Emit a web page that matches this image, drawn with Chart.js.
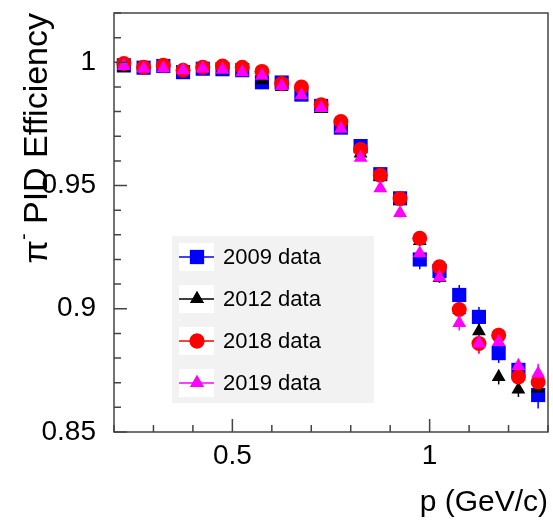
<!DOCTYPE html>
<html>
<head>
<meta charset="utf-8">
<script src="https://cdn.jsdelivr.net/npm/chart.js@4"></script>
<style>
  html, body { margin: 0; padding: 0; background: #fff; }
  #wrap { width: 553px; height: 523px; }
</style>
</head>
<body>
<div id="wrap"><canvas id="myChart" width="553" height="523"></canvas></div>
<script>
// momentum bins (GeV/c)
const pBins = [0.225, 0.275, 0.325, 0.375, 0.425, 0.475, 0.525, 0.575, 0.625, 0.675, 0.725,
               0.775, 0.825, 0.875, 0.925, 0.975, 1.025, 1.075, 1.125, 1.175, 1.225, 1.275];

const eff2009 = [0.9988, 0.9978, 0.9985, 0.9960, 0.9974, 0.9972, 0.9968, 0.9919, 0.9918, 0.9869, 0.9823,
                 0.9735, 0.9660, 0.9546, 0.9448, 0.9200, 0.9153, 0.9056, 0.8967, 0.8820, 0.8752, 0.8650];
const eff2012 = [0.9976, 0.9975, 0.9980, 0.9965, 0.9975, 0.9968, 0.9960, 0.9927, 0.9900, 0.9865, 0.9810,
                 0.9730, 0.9630, 0.9535, 0.9440, 0.9275, 0.9125, 0.8995, 0.8909, 0.8723, 0.8672, 0.8676];
const eff2018 = [0.9995, 0.9980, 0.9988, 0.9968, 0.9980, 0.9985, 0.9980, 0.9963, 0.9914, 0.9900, 0.9828,
                 0.9760, 0.9646, 0.9542, 0.9447, 0.9286, 0.9170, 0.8997, 0.8859, 0.8893, 0.8723, 0.8703];
const eff2019 = [0.9985, 0.9975, 0.9976, 0.9968, 0.9975, 0.9970, 0.9960, 0.9945, 0.9904, 0.9866, 0.9815,
                 0.9730, 0.9613, 0.9489, 0.9389, 0.9225, 0.9127, 0.8942, 0.8859, 0.8865, 0.8768, 0.8737];

// statistical errors
const err2009 = [0.001, 0.001, 0.001, 0.001, 0.001, 0.001, 0.001, 0.001, 0.001, 0.001, 0.001,
                 0.001, 0.001, 0.002, 0.002, 0.004, 0.002, 0.004, 0.004, 0.004, 0.004, 0.0055];
const err2012 = [0.001, 0.001, 0.001, 0.001, 0.001, 0.001, 0.001, 0.001, 0.001, 0.001, 0.001,
                 0.001, 0.001, 0.001, 0.002, 0.002, 0.002, 0.003, 0.003, 0.003, 0.003, 0.004];
const err2018 = [0.001, 0.001, 0.001, 0.001, 0.001, 0.001, 0.001, 0.001, 0.001, 0.001, 0.001,
                 0.001, 0.001, 0.001, 0.002, 0.002, 0.002, 0.003, 0.004, 0.003, 0.003, 0.004];
const err2019 = [0.001, 0.001, 0.001, 0.001, 0.001, 0.001, 0.001, 0.001, 0.001, 0.001, 0.001,
                 0.001, 0.001, 0.001, 0.002, 0.002, 0.002, 0.003, 0.004, 0.003, 0.003, 0.004];

const seriesNames = ['2009 data', '2012 data', '2018 data', '2019 data'];
const xTickLabels = [0.5, 1];
const yTickLabels = [0.85, 0.9, 0.95, 1];

const FONT = '"Liberation Sans", Arial, Helvetica, sans-serif';

function pts(vals, errs) {
  return pBins.map((p, i) => ({ x: p, y: vals[i], e: errs[i] }));
}

function isLabel(v, list) {
  return list.some(t => Math.abs(t - v) < 1e-6);
}

function noPad(s) {
  s.paddingTop = 0;
  s.paddingBottom = 0;
  s.paddingLeft = 0;
  s.paddingRight = 0;
}

const frameTicks = {
  id: 'frameTicks',
  beforeDatasetsDraw(chart) {
    // error bars under the markers
    const ctx = chart.ctx, xs = chart.scales.x, ys = chart.scales.y;
    ctx.save();
    chart.data.datasets.forEach(ds => {
      ctx.strokeStyle = ds.borderColor;
      ctx.lineWidth = 1.5;
      ds.data.forEach(d => {
        const px = xs.getPixelForValue(d.x);
        ctx.beginPath();
        ctx.moveTo(px, ys.getPixelForValue(d.y - d.e));
        ctx.lineTo(px, ys.getPixelForValue(d.y + d.e));
        ctx.stroke();
      });
    });
    ctx.restore();
  },
  afterDraw(chart) {
    const ctx = chart.ctx, a = chart.chartArea;
    const xs = chart.scales.x, ys = chart.scales.y;
    ctx.save();
    ctx.strokeStyle = '#444';
    ctx.lineWidth = 1.5;
    ctx.strokeRect(a.left, a.top, a.right - a.left, a.bottom - a.top);

    // inward ticks
    ctx.beginPath();
    for (let i = 0; i <= 11; i++) {
      const v = 0.2 + i * 0.1;
      const px = xs.getPixelForValue(v);
      const len = isLabel(v, xTickLabels) ? 13 : 7;
      ctx.moveTo(px, a.bottom);
      ctx.lineTo(px, a.bottom - len);
    }
    for (let i = 0; i <= 17; i++) {
      const v = 0.85 + i * 0.01;
      const py = ys.getPixelForValue(v);
      const len = isLabel(v, yTickLabels) ? 13 : 7;
      ctx.moveTo(a.left, py);
      ctx.lineTo(a.left + len, py);
    }
    ctx.stroke();

    // axis titles
    ctx.fillStyle = '#000';
    ctx.font = '30px ' + FONT;
    ctx.textAlign = 'right';
    ctx.textBaseline = 'alphabetic';
    ctx.fillText('p (GeV/c)', a.right, 511);

    ctx.translate(47, 13);
    ctx.rotate(-Math.PI / 2);
    ctx.textAlign = 'left';
    const big = '34px ' + FONT, small = '20px ' + FONT;
    ctx.font = big;
    const wPi = ctx.measureText('\u03c0').width;
    const wRest = ctx.measureText(' PID Efficiency').width;
    ctx.font = small;
    const wMin = ctx.measureText('-').width;
    let x0 = -(wPi + wMin + wRest);
    ctx.font = big;
    ctx.fillText('\u03c0', x0, 0);
    ctx.font = small;
    ctx.fillText('-', x0 + wPi, -17);
    ctx.font = big;
    ctx.fillText(' PID Efficiency', x0 + wPi + wMin, 0);
    ctx.restore();

    // legend box
    ctx.save();
    ctx.fillStyle = '#f2f2f2';
    ctx.fillRect(172, 236, 202, 167);
    ctx.font = '22px ' + FONT;
    ctx.textBaseline = 'middle';
    chart.data.datasets.forEach((ds, i) => {
      const cy = 257 + i * 42;
      ctx.fillStyle = '#fff';
      ctx.fillRect(179, cy - 14, 35, 28);
      ctx.strokeStyle = ds.borderColor;
      ctx.lineWidth = 1.5;
      ctx.beginPath();
      ctx.moveTo(179, cy);
      ctx.lineTo(214, cy);
      ctx.stroke();
      ctx.fillStyle = ds.backgroundColor;
      Chart.helpers.drawPoint(ctx, { pointStyle: ds.pointStyle, radius: ds.pointRadius, borderWidth: 0, rotation: 0 }, 197, cy);
      ctx.fill();
      ctx.fillStyle = '#000';
      ctx.fillText(ds.label, 223, cy + 1);
    });
    ctx.restore();
  }
};

const colors = ['#0000ff', '#000000', '#ff0000', '#ff00ff'];
const styles = ['rect', 'triangle', 'circle', 'triangle'];
const radii = [10, 8, 7.5, 8];
const effs = [eff2009, eff2012, eff2018, eff2019];
const errs = [err2009, err2012, err2018, err2019];

const datasets = seriesNames.map((name, i) => ({
  label: name,
  data: pts(effs[i], errs[i]),
  showLine: false,
  pointStyle: styles[i],
  pointRadius: radii[i],
  pointHoverRadius: radii[i],
  pointBorderWidth: 0,
  borderColor: colors[i],
  backgroundColor: colors[i],
  order: 4 - i
}));

new Chart(document.getElementById('myChart'), {
  type: 'scatter',
  data: { datasets },
  options: {
    responsive: false,
    animation: false,
    layout: { autoPadding: false, padding: { left: 0, top: 13, right: 5, bottom: 0 } },
    plugins: { legend: { display: false }, tooltip: { enabled: false } },
    scales: {
      x: {
        type: 'linear',
        min: 0.2,
        max: 1.3,
        afterFit: s => { s.height = 91; noPad(s); },
        grid: { display: false, drawTicks: false },
        border: { display: false },
        ticks: {
          stepSize: 0.1,
          padding: 7,
          color: '#000',
          font: { family: FONT, size: 28 },
          maxRotation: 0,
          autoSkip: false,
          callback: v => isLabel(v, xTickLabels) ? String(Math.round(v * 10) / 10) : null
        }
      },
      y: {
        type: 'linear',
        min: 0.85,
        max: 1.02,
        afterFit: s => { s.width = 114; noPad(s); },
        grid: { display: false, drawTicks: false },
        border: { display: false },
        ticks: {
          stepSize: 0.01,
          padding: 18,
          color: '#000',
          font: { family: FONT, size: 28 },
          autoSkip: false,
          callback: v => isLabel(v, yTickLabels) ? String(Math.round(v * 100) / 100) : null
        }
      }
    }
  },
  plugins: [frameTicks]
});
</script>
</body>
</html>
